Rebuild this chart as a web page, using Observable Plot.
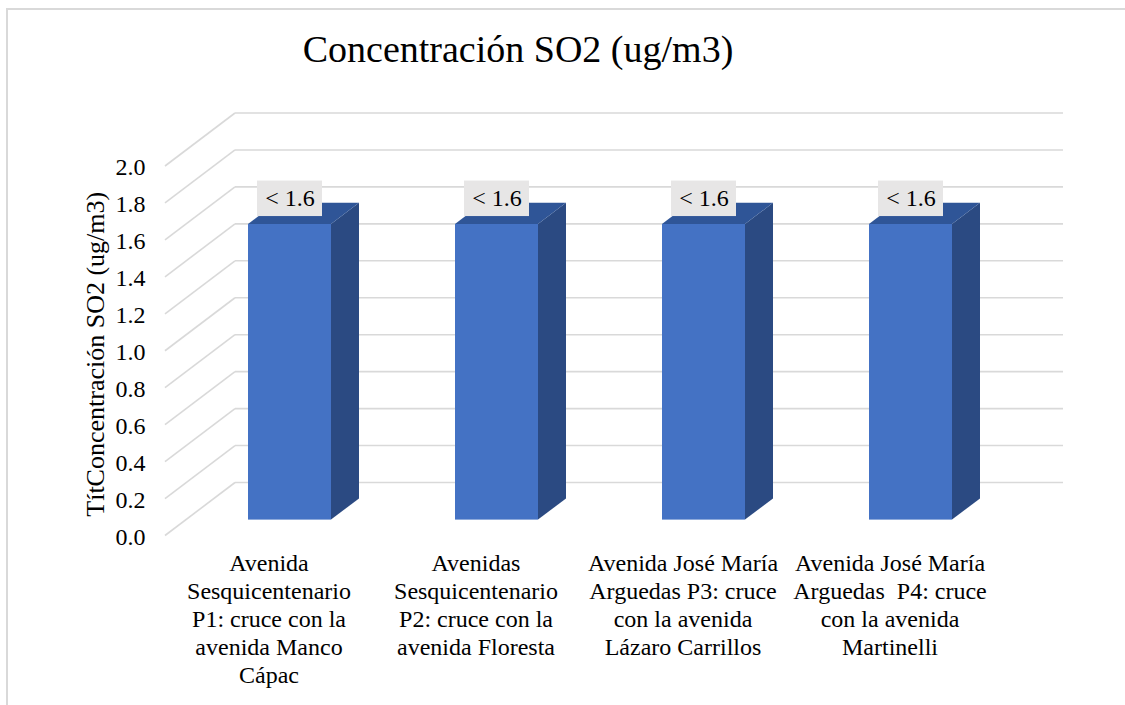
<!DOCTYPE html>
<html>
<head>
<meta charset="utf-8">
<script src="https://cdn.jsdelivr.net/npm/d3@7"></script>
<script src="https://cdn.jsdelivr.net/npm/@observablehq/plot@0.6"></script>
<style>
  html, body { margin: 0; padding: 0; background: #fff; overflow: hidden; }
  #wrap { position: relative; width: 1125px; height: 705px; overflow: hidden;
          font-family: 'Liberation Serif', 'Times New Roman', serif; }
  #border { position: absolute; left: 6px; top: 8px; width: 1200px; height: 800px;
            border: 2px solid #d9d9d9; box-sizing: border-box; }
  #chart { position: absolute; left: 0; top: 0; }
  #title { position: absolute; left: 168px; width: 700px; top: 30px; text-align: center;
           font-size: 38px; line-height: 38px; color: #000; white-space: nowrap; }
</style>
</head>
<body>
<div id="wrap">
  <div id="border"></div>
  <div id="chart"></div>
  <div id="title"></div>
</div>
<script>
// ---------- data ----------
const chartTitle = "Concentración SO2 (ug/m3)";
const yTitle = "TítConcentración SO2 (ug/m3)";
const categories = [
  "Avenida\nSesquicentenario\nP1: cruce con la\navenida Manco\nCápac",
  "Avenidas\nSesquicentenario\nP2: cruce con la\navenida Floresta",
  "Avenida José María\nArguedas P3: cruce\ncon la avenida\nLázaro Carrillos",
  "Avenida José María\nArguedas  P4: cruce\ncon la avenida\nMartinelli"
];
const values = [1.6, 1.6, 1.6, 1.6];
const valueLabels = ["< 1.6", "< 1.6", "< 1.6", "< 1.6"];
const yTicks = [0, 0.2, 0.4, 0.6, 0.8, 1.0, 1.2, 1.4, 1.6, 1.8, 2.0];

// ---------- styling / 3D projection constants ----------
const DX = 70, DY = -53;          // full depth offset (px)
const FRONT = 0.3, BACK = 0.7;    // bar depth span
const BAR_INSET = 62;
const FONT = "'Liberation Serif', 'Times New Roman', serif";
const C_FRONT = "#4472C4", C_TOP = "#2f5597", C_SIDE = "#2b4a82", C_GRID = "#d9d9d9";

document.getElementById("title").textContent = chartTitle;

const data = categories.map((c, i) => ({category: c, value: values[i], label: valueLabels[i]}));

function bw(x) { return typeof x.bandwidth === "function" ? x.bandwidth() : x.bandwidth; }

// floor diagonals + back wall gridlines
function grid3d(index, scales, vals, dims) {
  const y = scales.y;
  const g = d3.create("svg:g").attr("stroke", C_GRID).attr("stroke-width", 1.6).attr("fill", "none");
  const x0 = dims.marginLeft, x1 = dims.width - dims.marginRight;
  for (const t of yTicks) {
    const py = y(t);
    g.append("line").attr("x1", x0).attr("y1", py).attr("x2", x0 + DX).attr("y2", py + DY);
    g.append("line").attr("x1", x0 + DX).attr("y1", py + DY).attr("x2", x1 + DX).attr("y2", py + DY);
  }
  return g.node();
}

// top and side faces of 3D columns
function barFaces(index, scales) {
  const x = scales.x, y = scales.y, w = bw(x);
  const g = d3.create("svg:g");
  const fx = DX * FRONT, fy = DY * FRONT;
  const ddx = DX * (BACK - FRONT), ddy = DY * (BACK - FRONT);
  for (const d of data) {
    const l = x(d.category) + BAR_INSET + fx, r = x(d.category) + w - BAR_INSET + fx;
    const t = y(d.value) + fy, b = y(0) + fy;
    g.append("polygon").attr("fill", C_SIDE)
      .attr("points", [[r, b], [r, t], [r + ddx, t + ddy], [r + ddx, b + ddy]].join(" "));
    g.append("polygon").attr("fill", C_TOP)
      .attr("points", [[l, t], [r, t], [r + ddx, t + ddy], [l + ddx, t + ddy]].join(" "));
  }
  return g.node();
}

const LABEL_DY = DY * FRONT - 25.7;
const BOX_W = 65, BOX_H = 35.5;
function labelBoxes(index, scales) {
  const x = scales.x, y = scales.y, w = bw(x);
  const g = d3.create("svg:g").attr("fill", "#e7e6e6");
  for (const d of data) {
    const cx = x(d.category) + w / 2 + DX * FRONT;
    const cy = y(d.value) + LABEL_DY;
    g.append("rect").attr("x", cx - BOX_W / 2).attr("y", cy - BOX_H / 2)
      .attr("width", BOX_W).attr("height", BOX_H);
  }
  return g.node();
}

const chart = Plot.plot({
  width: 1125,
  height: 705,
  marginLeft: 165,
  marginRight: 132,
  marginTop: 166,
  marginBottom: 169.5,
  style: {background: "transparent", overflow: "visible", fontFamily: FONT, fontSize: "24px", color: "#000"},
  x: {type: "band", domain: categories, padding: 0},
  y: {domain: [0, 2]},
  marks: [
    grid3d,
    barFaces,
    Plot.barY(data, {x: "category", y: "value", fill: C_FRONT, insetLeft: BAR_INSET, insetRight: BAR_INSET,
                     dx: DX * FRONT, dy: DY * FRONT}),
    labelBoxes,
    Plot.text(data, {x: "category", y: "value", text: "label", dx: DX * FRONT, dy: LABEL_DY,
                     fontSize: 24, fill: "#000", fontFamily: FONT}),
    Plot.axisY({ticks: yTicks, tickSize: 0, tickPadding: 20, tickFormat: d3.format(".1f"), label: null,
                fontSize: 24, fill: "#000", fontFamily: FONT, dy: 1}),
    Plot.axisX({tickSize: 0, tickPadding: 15, label: null, fontSize: 24, lineHeight: 28 / 24, fill: "#000",
                fontFamily: FONT}),
    Plot.text([yTitle], {frameAnchor: "left", textAnchor: "middle", rotate: -90, dx: -70, dy: 3,
                         fontSize: 26, fill: "#000", fontFamily: FONT})
  ]
});
document.getElementById("chart").appendChild(chart);
</script>
</body>
</html>
